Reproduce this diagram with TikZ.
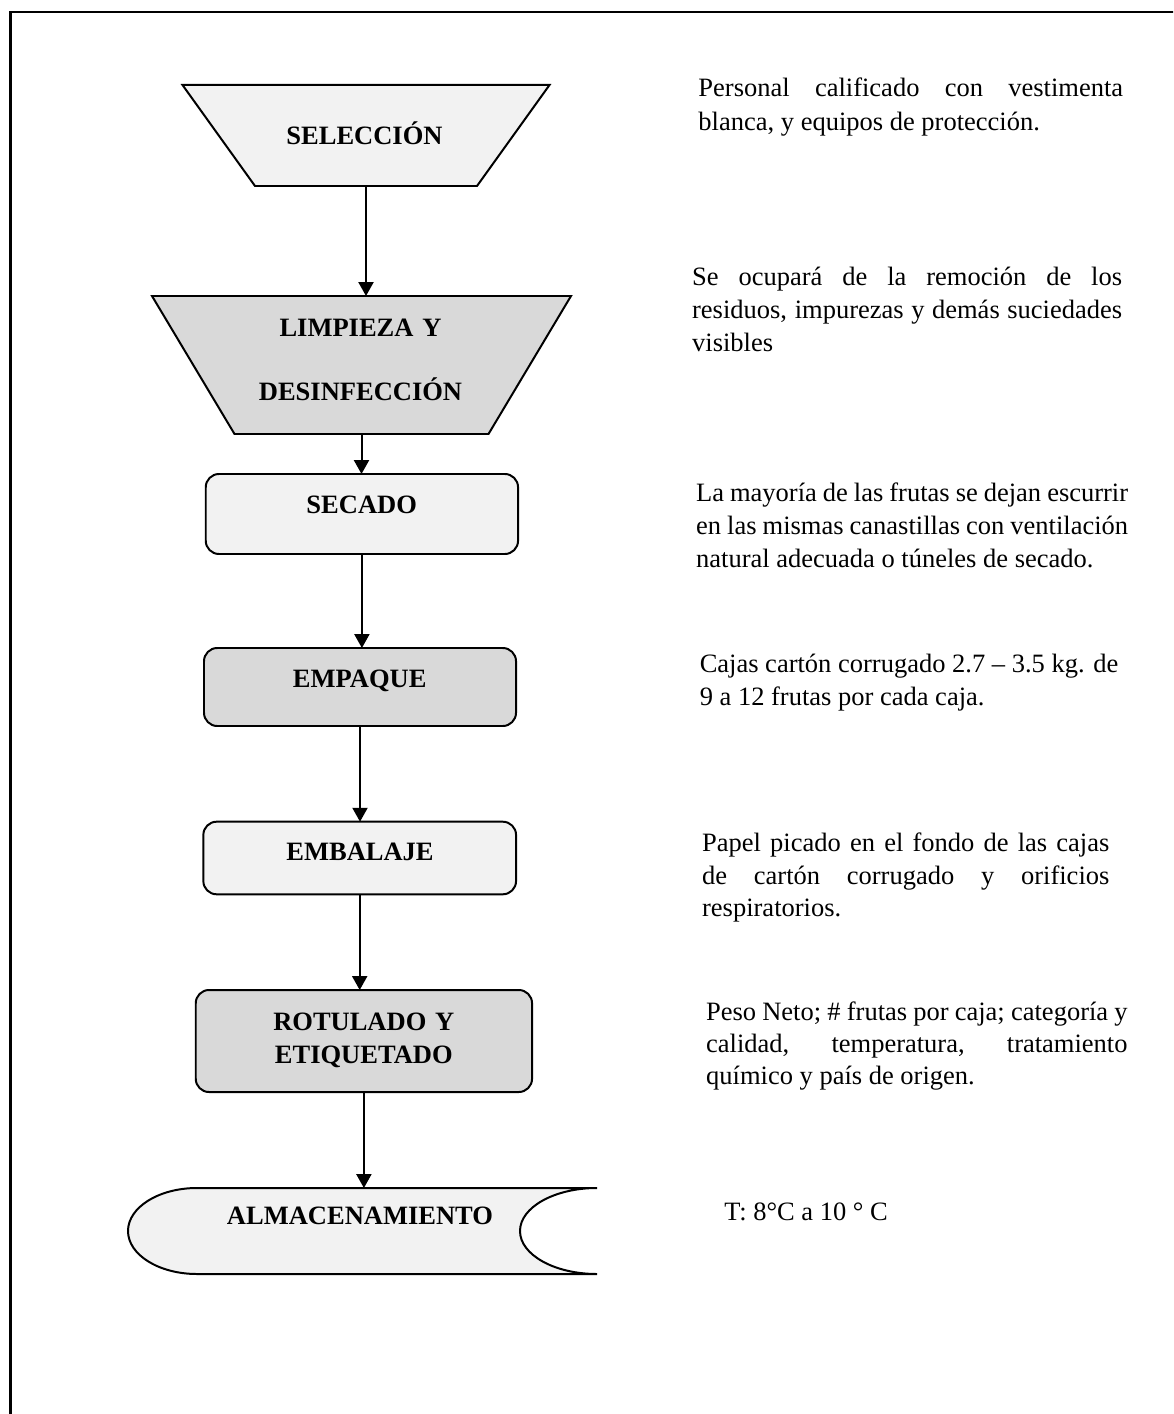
\documentclass[tikz,border=0pt]{standalone}
\usepackage{fontspec}
\setmainfont{Liberation Serif}
\usetikzlibrary{arrows.meta}

\definecolor{boxlight}{HTML}{F2F2F2}
\definecolor{boxdark}{HTML}{D9D9D9}

% one drawing unit in points
\def\pxl{0.4528pt}
% restore the font's own stretchable interword spaces
\newcommand\natspace{\spaceskip=0pt \xspaceskip=0pt\relax}
% a line whose interword spaces stretch to the full text width
\newcommand\jline[1]{\makebox[\hsize][s]{\natspace #1}}

\begin{document}
\begin{tikzpicture}[x=0.4528pt, y=-0.4528pt,
  shapeline/.style={draw=black, line width=0.9pt},
  bodybox/.style={inner sep=0pt, outer sep=0pt},
  roundbox/.style={shapeline, rounded corners=6pt, inner sep=0pt, outer sep=0pt},
  flowarrow/.style={draw=black, line width=0.9pt, -{Triangle[length=6.3pt, width=6.8pt]}},
  steplabel/.style={font=\bfseries\fontsize{12}{14}\selectfont, anchor=base, inner sep=0pt, text width=180pt, align=center},
  desc/.style={font=\fontsize{12}{15}\selectfont, anchor=base west, inner sep=0pt, align=left}
]
\path[use as bounding box, clip] (0,0) rectangle (1173,1414);

% outer frame (right and bottom sides lie beyond the page)
\draw[line width=1.2pt] (10.5,12) rectangle (1200,1450);

% ---- SELECCIÓN: inverted trapezium ----
\node[bodybox, minimum width={222*\pxl}, minimum height={101*\pxl}] (sel) at (366,135.5) {};
\draw[shapeline, fill=boxlight]
  ([xshift={-72.5*\pxl}]sel.north west) -- ([xshift={72.5*\pxl}]sel.north east)
  -- (sel.south east) -- (sel.south west) -- cycle;

% ---- LIMPIEZA Y DESINFECCIÓN: inverted trapezium ----
\node[bodybox, minimum width={254*\pxl}, minimum height={138*\pxl}] (limp) at (361.5,365) {};
\draw[shapeline, fill=boxdark]
  ([xshift={-82.5*\pxl}]limp.north west) -- ([xshift={82.5*\pxl}]limp.north east)
  -- (limp.south east) -- (limp.south west) -- cycle;

% ---- process boxes ----
\node[roundbox, fill=boxlight, minimum width={312.3*\pxl}, minimum height={80*\pxl}] (secado) at (361.9,514) {};
\node[roundbox, fill=boxdark, minimum width={312*\pxl}, minimum height={78*\pxl}] (empaque) at (360,687) {};
\node[roundbox, fill=boxlight, minimum width={312.7*\pxl}, minimum height={72.6*\pxl}] (embalaje) at (359.7,858) {};
\node[roundbox, fill=boxdark, minimum width={336.3*\pxl}, minimum height={102*\pxl}] (rot) at (363.9,1041) {};

% ---- ALMACENAMIENTO: stored-data shape ----
\node[bodybox, minimum width={400*\pxl}, minimum height={86*\pxl}] (alm) at (397,1231) {};
\draw[shapeline, fill=boxlight]
  (alm.north east) -- (alm.north west)
  arc[start angle=90, end angle=270, x radius={69*\pxl}, y radius={43*\pxl}]
  -- (alm.south east)
  arc[start angle=270, end angle=90, x radius={77*\pxl}, y radius={43*\pxl}]
  -- cycle;

% ---- step labels ----
\node[steplabel] (sel-t) at (364.5,145) {SELECCIÓN};
\node[steplabel, font=\bfseries\fontsize{12}{28.7}\selectfont] (limp-t) at (360.5,337) {LIMPIEZA Y\\DESINFECCIÓN};
\node[steplabel] (secado-t) at (361.7,513.3) {SECADO};
\node[steplabel] (empaque-t) at (359.7,687.7) {EMPAQUE};
\node[steplabel] (embalaje-t) at (360,860.7) {EMBALAJE};
\node[steplabel, font=\bfseries\fontsize{12}{14.8}\selectfont] (rot-t) at (363.8,1030.7) {ROTULADO Y\\ETIQUETADO};
\node[steplabel] (alm-t) at (360,1224) {ALMACENAMIENTO};

% ---- connectors ----
\draw[flowarrow] (sel.south) -- (sel.south |- limp.north);
\draw[flowarrow] (limp.south) -- (limp.south |- secado.north);
\draw[flowarrow] (secado.south) -- (secado.south |- empaque.north);
\draw[flowarrow] (empaque.south) -- (empaque.south |- embalaje.north);
\draw[flowarrow] (embalaje.south) -- (embalaje.south |- rot.north);
\draw[flowarrow] (rot.south) -- (rot.south |- alm.north);

% ---- descriptions ----
\node[desc, font=\fontsize{12}{15.4}\selectfont, text width=192.3pt] (d-sel) at (698,96.7)
  {\natspace\jline{Personal calificado con vestimenta}\\blanca, y equipos de protección.};
\node[desc, text width=194.7pt] (d-limp) at (691.7,285.7)
  {\natspace\jline{Se ocupará de la remoción de los}\\\jline{residuos, impurezas y demás suciedades}\\visibles};
\node[desc, text width=195.6pt] (d-secado) at (695.7,501.7)
  {\natspace\jline{La mayoría de las frutas se dejan escurrir}\\\jline{en las mismas canastillas con ventilación}\\natural adecuada o túneles de secado.};
\node[desc, text width=189.6pt] (d-empaque) at (699.3,672.3)
  {\natspace\jline{Cajas cartón corrugado 2.7 – 3.5 kg. de}\\9 a 12 frutas por cada caja.};
\node[desc, font=\fontsize{12}{14.7}\selectfont, text width=184.4pt] (d-embalaje) at (701.7,851.7)
  {\natspace\jline{Papel picado en el fondo de las cajas}\\\jline{de cartón corrugado y orificios}\\respiratorios.};
\node[desc, font=\fontsize{12}{14.7}\selectfont, text width=190.8pt] (d-rot) at (705.7,1020)
  {\natspace\jline{Peso Neto; \# frutas por caja; categoría y}\\\jline{calidad, temperatura, tratamiento}\\químico y país de origen.};
\node[desc] (d-alm) at (724,1220) {\natspace T: 8°C a 10 ° C};
\end{tikzpicture}
\end{document}
